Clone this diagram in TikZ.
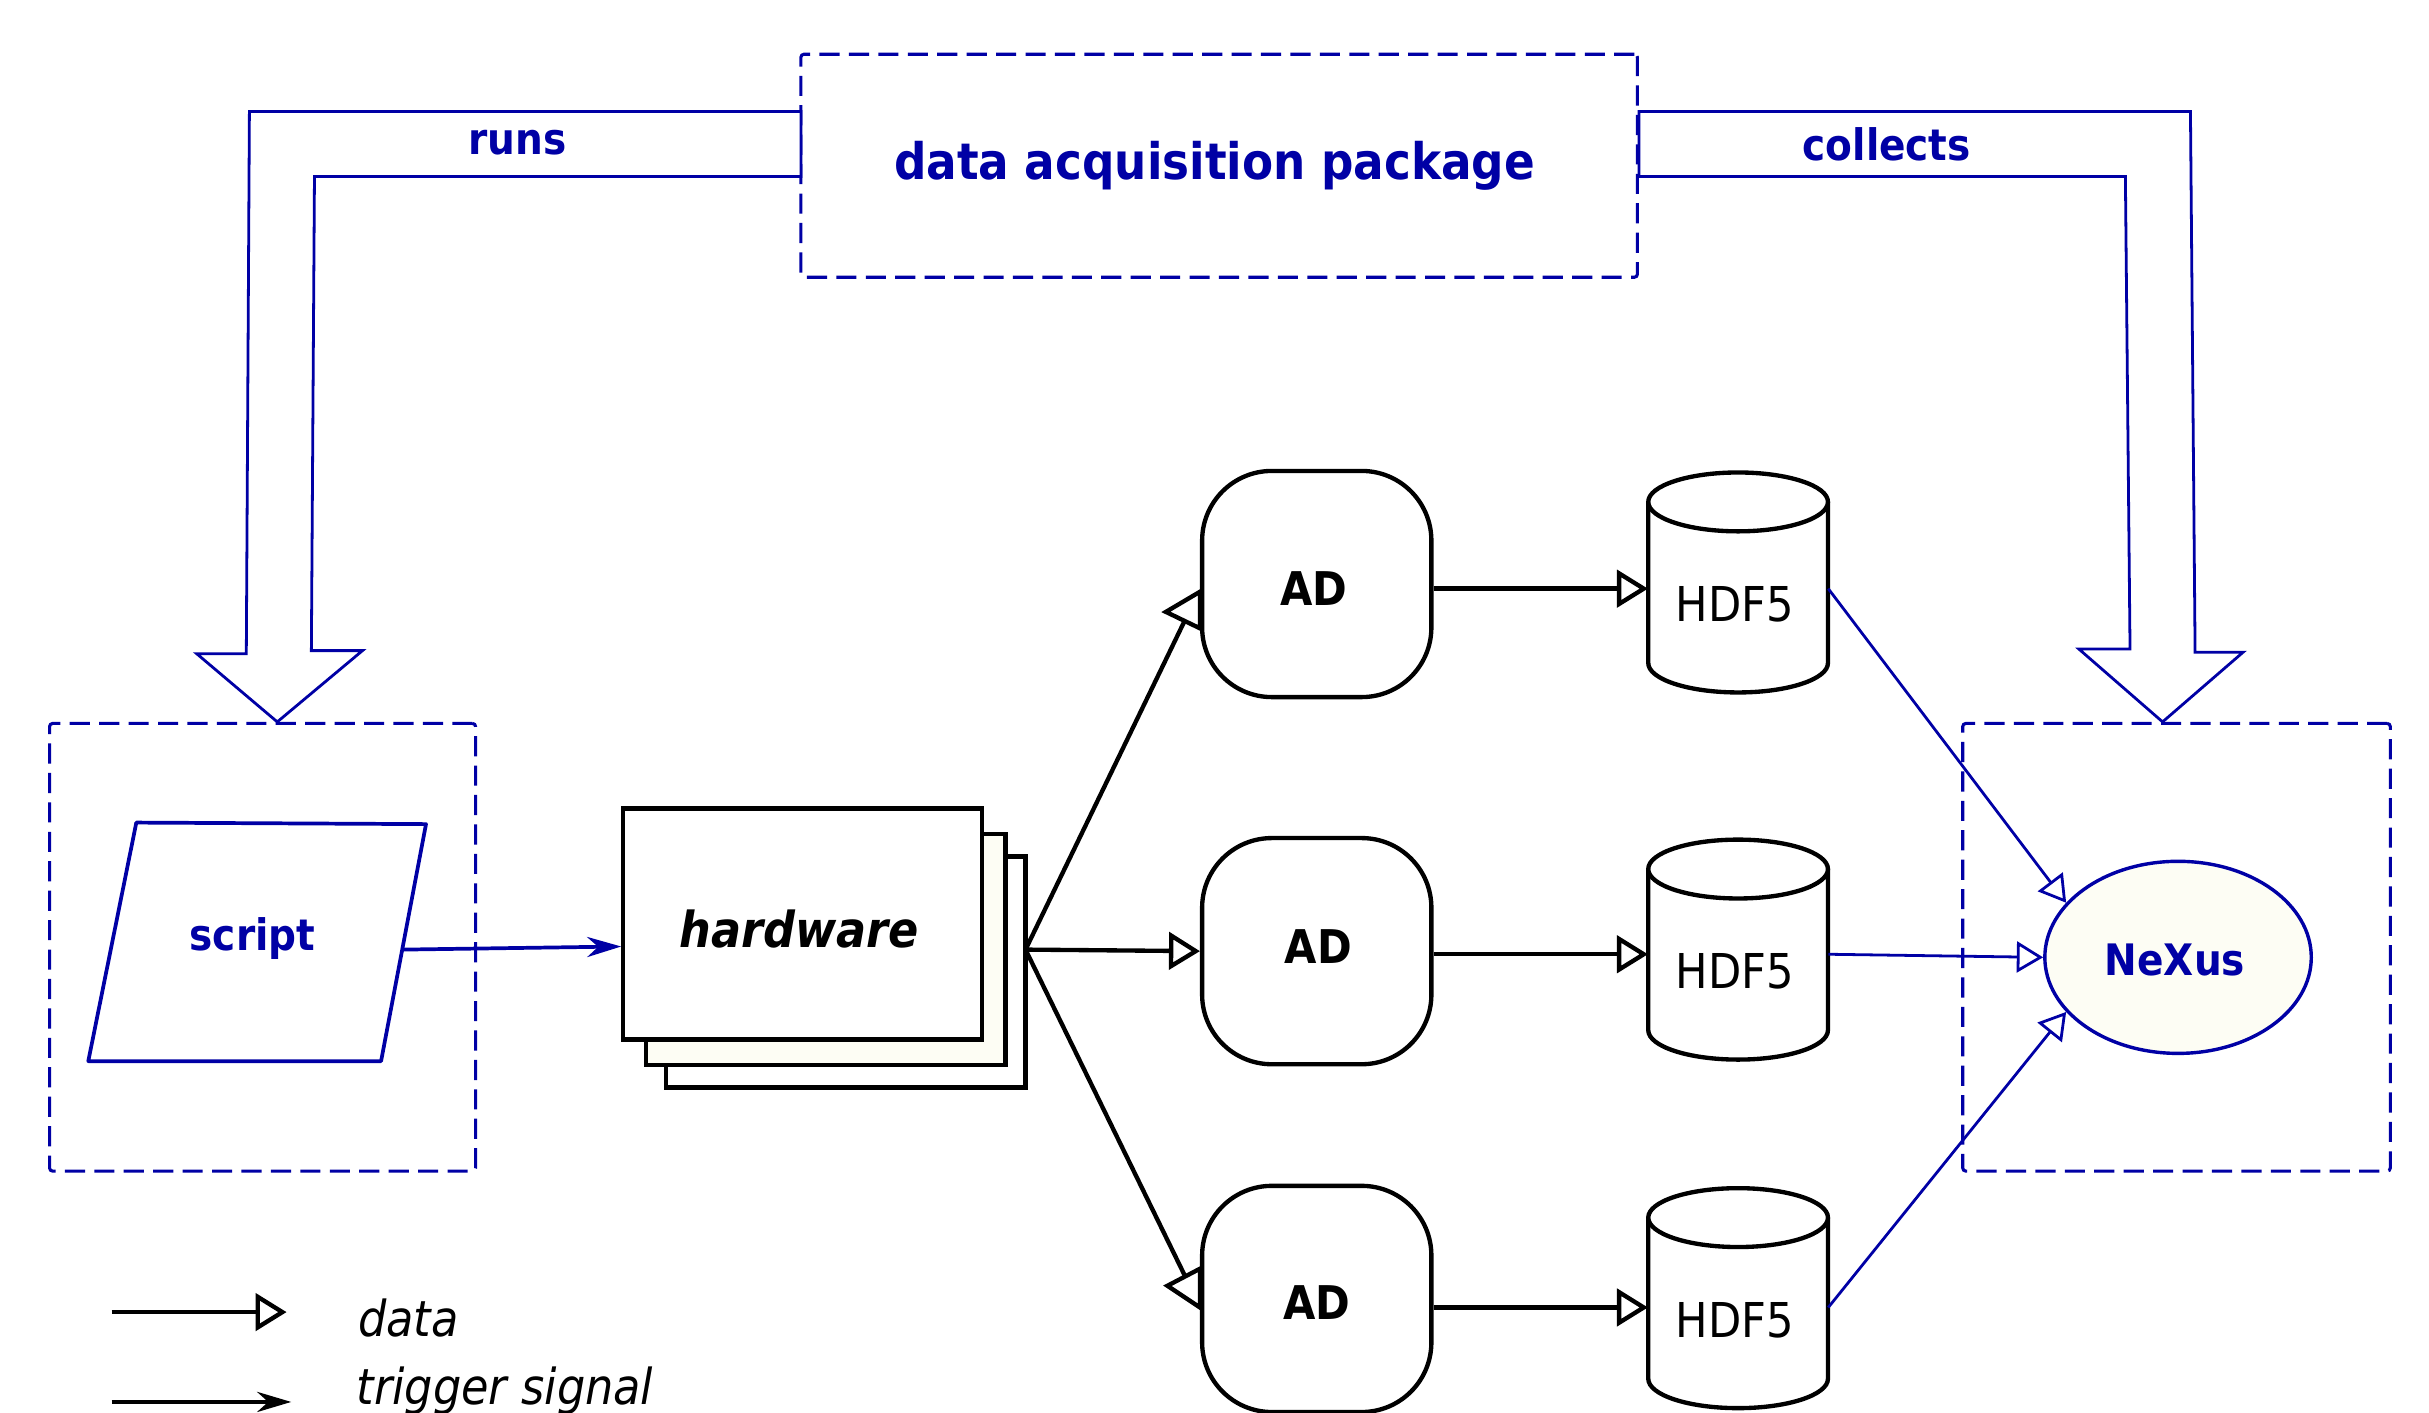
\documentclass[tikz,border=0pt]{standalone}
\usepackage{fontspec}
\setmainfont{DejaVu Sans Condensed}
\usetikzlibrary{arrows.meta,shapes.geometric,calc}
\definecolor{dblue}{RGB}{0,0,165}
\definecolor{ivorya}{RGB}{253,253,244}
\tikzset{
  dbox/.style={draw=dblue, line width=2pt, dash pattern=on 13pt off 6pt, rounded corners=2pt},
  bigarrow/.style={draw=dblue, line width=1.8pt, fill=white, line join=miter},
  bluelbl/.style={text=dblue, font=\fontsize{28}{30}\selectfont\bfseries, inner sep=0},
  card/.style={draw=black, line width=2.8pt, minimum width=232pt, minimum height=149pt, inner sep=0, fill=white},
  adbox/.style={draw=black, line width=2.8pt, minimum width=148pt, minimum height=146pt, rounded corners=45pt, inner sep=0},
  adlbl/.style={font=\fontsize{30}{32}\selectfont\bfseries, inner sep=0},
  hdf/.style={draw=none, minimum width=116pt, minimum height=142pt, inner sep=0},
  cyl/.style={draw=black, line width=2.8pt, fill=white},
  blackline/.style={draw=black, line width=2.8pt},
  opentri/.style={draw=black, line width=2.8pt, fill=white, line join=miter},
  dataarrow/.style={draw=black, line width=2.8pt, -{Triangle[open, length=20pt, width=24pt, line width=2.8pt]}},
  blueflow/.style={draw=dblue, line width=1.8pt, -{Triangle[open, length=17pt, width=20pt, line width=1.8pt]}},
  trig/.style={line width=2.6pt, -{Stealth[length=22pt, width=13pt]}},
  legendtxt/.style={font=\fontsize{32}{34}\selectfont\itshape, anchor=west, inner sep=0}
}
\begin{document}
\begin{tikzpicture}[x=1pt,y=-1pt]
\useasboundingbox (0,0) rectangle (1568,911.5);
\clip (0,0) rectangle (1568,911.5);

% top package box
\node[dbox, minimum width=540pt, minimum height=144pt, inner sep=0] (daq) at (787,107) {};
\node[text=dblue, font=\fontsize{32.5}{34}\selectfont\bfseries, inner sep=0] (daqtxt) at (784,107) {data acquisition package};

% runs big arrow
\draw[bigarrow] (517,72) -- (161,72) -- (159,422) -- (127,422) -- (179,466) -- (234,420) -- (201,420) -- (203,114) -- (517,114) -- cycle;
\node[bluelbl] (runs) at (334,92) {runs};

% collects big arrow
\draw[bigarrow] (1058,72) -- (1414,72) -- (1417,421) -- (1448,421) -- (1396,466) -- (1342,419) -- (1375,419) -- (1372,114) -- (1058,114) -- cycle;
\node[bluelbl] (collects) at (1218,93) {collects};

% left dashed box with script
\node[dbox, minimum width=275pt, minimum height=289pt, inner sep=0] (leftbox) at (169.5,611.5) {};
\draw[draw=dblue, line width=2.4pt, line join=round] (88,531) -- (275,532) -- (246,685) -- (57,685) -- cycle;
\node[bluelbl] (script) at (163,606) {script};
\coordinate (scriptout) at (260,613);

% hardware stack
\node[card] (hw3) at (546,627.5) {};
\node[card, fill=ivorya] (hw2) at (533,613) {};
\node[card] (hw1) at (518,596.5) {};
\node[font=\fontsize{32}{34}\selectfont\bfseries\itshape, inner sep=0] (hwtxt) at (516,600) {hardware};
\coordinate (fork) at (662,613);

\draw[draw=dblue, line width=2.4pt, -{Stealth[length=22pt, width=13pt]}] (scriptout) -- (401,611);

% AD nodes
\node[adbox] (ad1) at (850,377) {};
\node[adbox] (ad2) at (850,614) {};
\node[adbox] (ad3) at (850,838.5) {};
\node[adlbl] at (848,380) {AD};
\node[adlbl] at (851,611) {AD};
\node[adlbl] at (850,841) {AD};

\coordinate (ad1in) at ($(ad1.west)+(-10,24)$);
\coordinate (ad3in) at ($(ad3.west)+(-10,-15.5)$);
\draw[blackline] (fork) -- (ad1in);
\draw[opentri] ($(ad1.west)+(-22,18)$) -- ($(ad1.west)+(0,5)$) -- ($(ad1.west)+(0,28.6)$) -- cycle;
\draw[dataarrow] (fork) -- (ad2.west);
\draw[blackline] (fork) -- (ad3in);
\draw[opentri] ($(ad3.west)+(-21,-8.5)$) -- ($(ad3.west)+(0,-19.5)$) -- ($(ad3.west)+(0,5.5)$) -- cycle;

% HDF5 cylinders
\foreach \n/\cy in {h1/376, h2/613, h3/838}{
  \node[hdf] (\n) at (1122,\cy) {};
  \draw[cyl] (1064,\cy-52) -- (1064,\cy+52) arc[start angle=180, end angle=360, x radius=58, y radius=-19] -- (1180,\cy-52);
  \draw[cyl] (1122,\cy-52) ellipse[x radius=58, y radius=19];
  \node[font=\fontsize{31}{33}\selectfont, inner sep=0] at (1120,\cy+14) {HDF5};
}

\draw[dataarrow] (ad1.east |- 0,380) -- (h1.west |- 0,380);
\draw[dataarrow] (ad2.east |- 0,616) -- (h2.west |- 0,616);
\draw[dataarrow] (ad3.east |- 0,844) -- (h3.west |- 0,844);

% right dashed box with NeXus
\node[dbox, minimum width=276pt, minimum height=289pt, inner sep=0] (rightbox) at (1405,611.5) {};
\node[ellipse, draw=dblue, line width=2.2pt, fill=ivorya, minimum width=172pt, minimum height=124pt, inner sep=0] (nx) at (1406,618) {};
\node[bluelbl] (nxtxt) at (1404,620) {NeXus};

\draw[blueflow] (h1.east |- 0,380) -- (nx.154);
\draw[blueflow] (h2.east |- 0,616) -- (nx.west);
\draw[blueflow] (h3.east |- 0,844) -- (nx.206);

% legend
\coordinate (l1a) at (72,847);
\coordinate (l1b) at (185,847);
\coordinate (l2a) at (72,905);
\coordinate (l2b) at (188,905);
\draw[dataarrow] (l1a) -- (l1b);
\draw[trig] (l2a) -- (l2b);
\node[legendtxt] (ldata) at (231,851) {data};
\node[legendtxt] (ltrig) at (230,898) {trigger signal};
\end{tikzpicture}
\end{document}
